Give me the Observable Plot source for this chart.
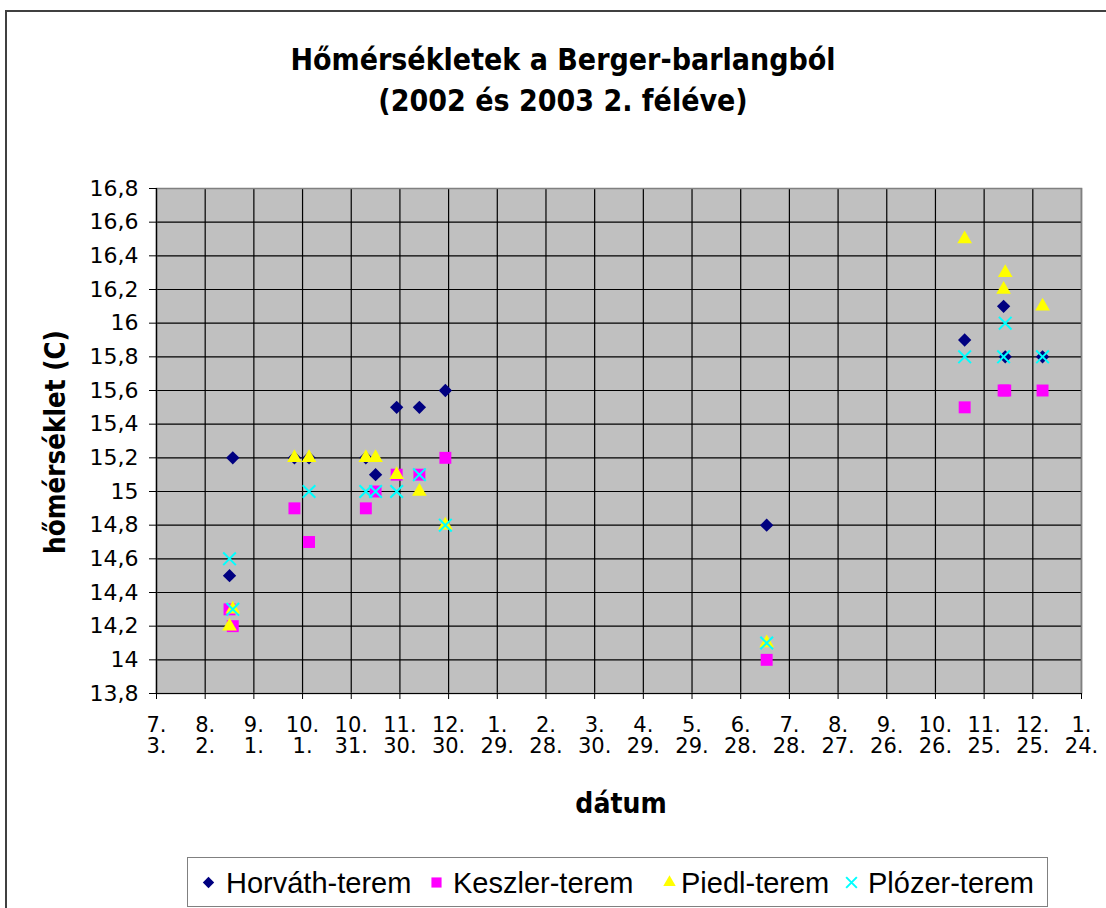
<!DOCTYPE html>
<html>
<head>
<meta charset="utf-8">
<script src="https://cdn.jsdelivr.net/npm/d3@7"></script>
<script src="https://cdn.jsdelivr.net/npm/@observablehq/plot@0.6"></script>
<style>
  html, body { margin: 0; padding: 0; background: #fff; }
  #wrap { position: relative; width: 1106px; height: 908px; overflow: hidden; background: #fff; font-family: "DejaVu Sans", sans-serif; }
  #border { position: absolute; left: 5px; top: 10px; width: 1200px; height: 1000px; border-top: 2px solid #404040; border-left: 2px solid #404040; }
  #title { position: absolute; left: 6px; width: 1114px; top: 39px; text-align: center; font-weight: bold; font-size: 30px; line-height: 41px; color: #000; font-stretch: condensed; font-family: "DejaVu Sans Condensed", "DejaVu Sans", sans-serif; }
  #chart { position: absolute; left: 0; top: 168px; }
  #ylabel { position: absolute; left: 55px; top: 442px; transform: translate(-50%, -50%) rotate(-90deg); white-space: nowrap; font-weight: bold; font-size: 27.5px; font-stretch: condensed; font-family: "DejaVu Sans Condensed", "DejaVu Sans", sans-serif; }
  #xlabel { position: absolute; left: 621px; top: 803px; transform: translate(-50%, -50%); white-space: nowrap; font-weight: bold; font-size: 28px; font-stretch: condensed; font-family: "DejaVu Sans Condensed", "DejaVu Sans", sans-serif; }
  #legend { position: absolute; left: 187px; top: 857px; width: 861px; height: 50px; border: 1px solid #808080; box-sizing: border-box; font-size: 29px; white-space: nowrap; font-family: "Liberation Sans", Arial, sans-serif; }
  #legend .item { position: absolute; top: 0; height: 50px; display: flex; align-items: center; }
  #legend svg { position: absolute; top: 17px; }
</style>
</head>
<body>
<div id="wrap">
  <div id="border"></div>
  <div id="title">Hőmérsékletek a Berger-barlangból<br>(2002 és 2003 2. féléve)</div>
  <div id="chart"></div>
  <div id="ylabel">hőmérséklet (C)</div>
  <div id="xlabel">dátum</div>
  <div id="legend"></div>
</div>
<script>
// ---- data ----
const dates = ["2002-08-17","2002-08-19","2002-09-26","2002-10-05","2002-11-09","2002-11-15","2002-11-28","2002-12-12","2002-12-28","2003-07-14","2003-11-13","2003-12-07","2003-12-08","2003-12-31"];
const horvath = [14.5, 15.2, 15.2, 15.2, 15.2, 15.1, 15.5, 15.5, 15.6, 14.8, 15.9, 16.1, 15.8, 15.8];
const keszler = [14.3, 14.2, 14.9, 14.7, 14.9, 15.0, 15.1, 15.1, 15.2, 14.0, 15.5, 15.6, 15.6, 15.6];
const piedl   = [14.2, 14.3, 15.2, 15.2, 15.2, 15.2, 15.1, 15.0, 14.8, 14.1, 16.5, 16.2, 16.3, 16.1];
const plozer  = [14.6, 14.3, null, 15.0, 15.0, 15.0, 15.0, 15.1, 14.8, 14.1, 15.8, 15.8, 16.0, 15.8];
const seriesNames = ["Horváth-terem", "Keszler-terem", "Piedl-terem", "Plózer-terem"];
const xTicks = ["2002-07-03","2002-08-02","2002-09-01","2002-10-01","2002-10-31","2002-11-30","2002-12-30","2003-01-29","2003-02-28","2003-03-30","2003-04-29","2003-05-29","2003-06-28","2003-07-28","2003-08-27","2003-09-26","2003-10-26","2003-11-25","2003-12-25","2004-01-24"];
const yTicks = [13.8, 14, 14.2, 14.4, 14.6, 14.8, 15, 15.2, 15.4, 15.6, 15.8, 16, 16.2, 16.4, 16.6, 16.8];

// ---- styling ----
const styles = [
  {symbol: "diamond2", fill: "#000080", stroke: "none", r: 6.0},
  {symbol: "square2", fill: "#ff00ff", stroke: "none", r: 7.6},
  {symbol: "triangle2", fill: "#ffff00", stroke: "none", r: 7.0},
  {symbol: "times", fill: "none", stroke: "#00ffff", strokeWidth: 2, r: 5.8}
];
// legend layout (px, relative to the legend box): swatch centre and text start
const legendSwatchX = [20, 248, 481, 663];
const legendTextX = [38, 265, 493, 680];

const xTickDates = xTicks.map(s => new Date(s));
const seriesValues = [horvath, keszler, piedl, plozer];
const seriesData = seriesValues.map(vals =>
  dates.map((d, i) => ({date: new Date(d), value: vals[i]})).filter(r => r.value != null)
);

const fmtY = v => String(v).replace(".", ",");
const fmtX = d => `${d.getUTCMonth() + 1}.\n${d.getUTCDate()}.`;

const plot = Plot.plot({
  width: 1106,
  height: 665,
  marginLeft: 156,
  marginRight: 25,
  marginTop: 20,
  marginBottom: 140,
  style: {fontFamily: "DejaVu Sans, sans-serif", fontSize: "20px", color: "#000", background: "transparent", overflow: "visible"},
  x: {type: "utc", domain: [xTickDates[0], xTickDates[xTickDates.length - 1]]},
  y: {domain: [yTicks[0], yTicks[yTicks.length - 1]]},
  marks: [
    Plot.frame({fill: "#c0c0c0", stroke: "none"}),
    Plot.gridX(xTickDates, {stroke: "#000", strokeOpacity: 1, strokeWidth: 1.2}),
    Plot.gridY(yTicks, {stroke: "#000", strokeOpacity: 1, strokeWidth: 1.2}),
    Plot.frame({stroke: "#808080", strokeWidth: 1.5}),
    Plot.ruleX([xTickDates[0]], {stroke: "#000", strokeWidth: 1.2}),
    Plot.ruleY([yTicks[0]], {stroke: "#000", strokeWidth: 1.2}),
    Plot.axisX(xTickDates, {tickFormat: fmtX, tickSize: 6, tickPadding: 17, fontSize: 21, lineHeight: 1.03, label: null}),
    Plot.axisY(yTicks, {tickFormat: fmtY, tickSize: 7, tickPadding: 11, fontSize: 22, label: null}),
    ...seriesData.map((data, i) => Plot.dot(data, {x: "date", y: "value", ...styles[i]}))
  ]
});
document.getElementById("chart").appendChild(plot);

// ---- legend ----
const legend = document.getElementById("legend");
seriesNames.forEach((name, i) => {
  const s = styles[i];
  const sw = Plot.dot([0], {x: () => 0, y: () => 0, symbol: s.symbol, fill: s.fill, stroke: s.stroke, strokeWidth: s.strokeWidth, r: s.r * 0.85}).plot({
    width: 14, height: 14, margin: 0, axis: null, x: {domain: [-1, 1]}, y: {domain: [-1, 1]}, style: {background: "transparent", overflow: "visible"}
  });
  sw.style.left = (legendSwatchX[i] - 7) + "px";
  legend.appendChild(sw);
  const t = document.createElement("div");
  t.className = "item";
  t.style.left = legendTextX[i] + "px";
  t.textContent = name;
  legend.appendChild(t);
});
</script>
</body>
</html>
